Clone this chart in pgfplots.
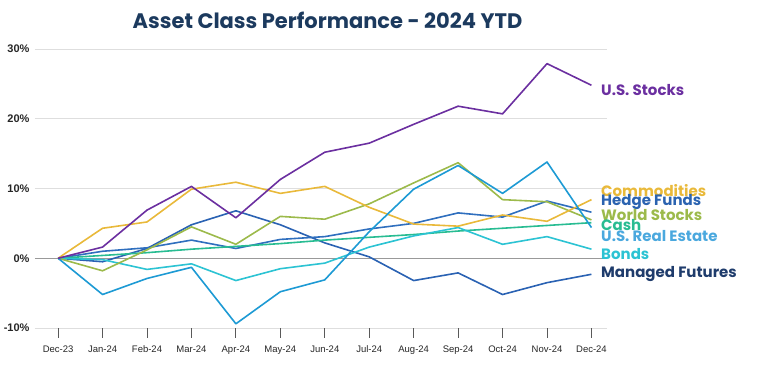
\documentclass[border=0pt]{standalone}
\usepackage{pgfplots}
\pgfplotsset{compat=1.18}
\usepackage{pgfplotstable}
\usepackage{fontspec}
\setmainfont{Liberation Sans}
\newfontfamily\pop{Poppins}
\definecolor{cUS}{HTML}{6B2FA0}
\definecolor{cCom}{HTML}{E9B93A}
\definecolor{cHF}{HTML}{2F6FBE}
\definecolor{cHFl}{HTML}{2B63B0}
\definecolor{cWS}{HTML}{9CBA4B}
\definecolor{cCash}{HTML}{28BC92}
\definecolor{cRE}{HTML}{1D9AD4}
\definecolor{cREl}{HTML}{4AA8DE}
\definecolor{cBo}{HTML}{2CC3D3}
\definecolor{cMF}{HTML}{2A62B3}
\definecolor{cMFl}{HTML}{1F3C6C}
\definecolor{cTitle}{HTML}{1C3A5E}
\pgfplotstableread{
x US Com HF WS Cash RE Bo MF
0 0 0 0 0 0 0 0 0
1 1.6 4.3 1.0 -1.8 0.4 -5.2 -0.2 -0.5
2 6.9 5.2 1.5 1.2 0.8 -2.9 -1.6 1.4
3 10.3 9.9 2.6 4.5 1.3 -1.3 -0.8 4.8
4 5.8 10.9 1.4 2.0 1.7 -9.4 -3.2 6.8
5 11.3 9.3 2.7 6.0 2.1 -4.8 -1.5 4.8
6 15.2 10.3 3.1 5.6 2.6 -3.1 -0.7 2.2
7 16.5 7.3 4.2 7.8 3.0 3.8 1.6 0.2
8 19.2 4.9 5.0 10.8 3.4 9.9 3.2 -3.2
9 21.8 4.6 6.5 13.7 3.9 13.3 4.4 -2.1
10 20.7 6.2 5.9 8.4 4.3 9.3 2.0 -5.2
11 27.9 5.3 8.2 8.1 4.7 13.8 3.1 -3.5
12 24.8 8.4 6.6 5.5 5.1 4.4 1.3 -2.3
}\data
\begin{document}
\begin{tikzpicture}
\path[use as bounding box] (0,0) rectangle (759pt,371pt);
\begin{axis}[
  at={(35pt,43pt)}, anchor=south west,
  scale only axis, width=572pt, height=279pt,
  xmin=-0.52, xmax=12.35, ymin=-10, ymax=30,
  axis line style={draw=none},
  xtick={0,...,12},
  xticklabels={Dec-23,Jan-24,Feb-24,Mar-24,Apr-24,May-24,Jun-24,Jul-24,Aug-24,Sep-24,Oct-24,Nov-24,Dec-24},
  xtick pos=bottom, tick align=outside,
  major tick length=10pt,
  x tick style={draw=black!65, line width=0.8pt},
  xticklabel style={font=\fontsize{9.5}{11}\selectfont, text=black!85, yshift=-4pt},
  ytick={-10,10,20,30},
  yticklabels={-10\%,10\%,20\%,30\%},
  extra y ticks={0}, extra y tick labels={0\%},
  extra y tick style={grid style={draw=black!40, line width=1.2pt}},
  y tick style={draw=none},
  yticklabel style={font=\bfseries\fontsize{11}{12}\selectfont, text=black!85, xshift=8pt},
  ymajorgrids, grid style={draw=black!13, line width=0.9pt},
  clip=false,
  every axis plot/.append style={line width=1.6pt, line join=round},
]
\addplot[cMF] table[x=x,y=MF]{\data};
\addplot[cHF] table[x=x,y=HF]{\data};
\addplot[cCash] table[x=x,y=Cash]{\data};
\addplot[cBo] table[x=x,y=Bo]{\data};
\addplot[cWS] table[x=x,y=WS]{\data};
\addplot[cCom] table[x=x,y=Com]{\data};
\addplot[cRE] table[x=x,y=RE]{\data};
\addplot[cUS] table[x=x,y=US]{\data};
\end{axis}
\node[font=\pop\bfseries\fontsize{21}{24}\selectfont, text=cTitle] at (327.5pt,351pt) {Asset Class Performance - 2024 YTD};
\begin{scope}[every node/.style={anchor=west, font=\pop\bfseries\fontsize{15}{16}\selectfont, inner sep=0pt}]
\node[text=cUS] at (601pt,281pt) {U.S. Stocks};
\node[text=cCom] at (601pt,180.5pt) {Commodities};
\node[text=cHFl] at (601pt,169pt) {Hedge Funds};
\node[text=cWS] at (601pt,156pt) {World Stocks};
\node[text=cCash] at (601pt,146pt) {Cash};
\node[text=cREl] at (601pt,134.5pt) {U.S. Real Estate};
\node[text=cBo] at (601pt,117pt) {Bonds};
\node[text=cMFl] at (601pt,97pt) {Managed Futures};
\end{scope}
\end{tikzpicture}
\end{document}
